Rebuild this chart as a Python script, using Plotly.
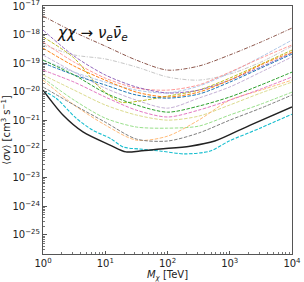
import numpy as np
import plotly.graph_objects as go

# mass grid (TeV) shared by most curves
mass = [1, 3.16, 10, 31.6, 100, 316, 1000, 3162, 10000]

# log10(<sigma v>) values [cm^3 s^-1]
brown = [-17.35, -17.91, -18.40, -18.89, -19.24, -19.10, -18.71, -18.26, -17.77]
purple = [-17.84, -18.75, -19.41, -19.83, -20.04, -19.94, -19.59, -19.13, -18.64]
lightgrey = [-18.36, -18.71, -18.85, -19.13, -19.48, -19.59, -19.38, -18.96, -18.40]
lightblue = [-18.89, -19.31, -19.66, -19.94, -20.04, -19.80, -19.34, -18.78, -18.19]
orange = [-18.47, -19.10, -19.59, -20.01, -20.18, -20.01, -19.59, -19.06, -18.61]
blue = [-18.99, -19.41, -19.76, -20.11, -20.22, -20.08, -19.66, -19.17, -18.68]
salmon = [-18.26, -18.96, -19.52, -19.87, -19.94, -19.76, -19.31, -18.82, -18.36]
green = [-18.89, -19.41, -20.04, -20.46, -20.71, -20.50, -20.18, -19.76, -19.31]
pink = [-19.24, -19.66, -20.18, -20.64, -20.88, -20.64, -20.29, -19.90, -19.48]
lavender = [-18.71, -19.31, -19.87, -20.29, -20.57, -20.22, -19.83, -19.31, -18.78]
lightyellow = [-19.41, -19.94, -20.46, -20.81, -20.99, -20.85, -20.46, -20.04, -19.66]
lightgreen = [-19.52, -20.29, -20.92, -21.23, -21.27, -21.20, -20.81, -20.43, -20.01]
peach = [-19.59, -20.46, -21.16, -21.69, -21.55, -20.99, -20.29, -19.94, -19.59]
grey = [-19.83, -20.46, -21.06, -21.65, -21.72, -21.44, -20.99, -20.57, -20.11]

olive_mass = [1, 3.16, 7.94, 17.8, 35.5, 100, 316, 1000, 3162, 10000]
olive = [-18.08, -18.82, -19.83, -20.36, -20.32, -20.15, -19.94, -19.52, -19.03, -18.54]

black_mass = [1, 2.09, 4.38, 11.9, 21.5, 36, 76, 230, 575, 2140, 10000]
black = [-19.94, -20.81, -21.40, -21.86, -22.10, -22.07, -22.00, -21.90, -21.72, -21.16, -20.53]

cyan_mass = [1, 1.62, 3.4, 6.3, 11.9, 19.6, 36, 76, 190, 485, 978, 3070, 10000]
cyan = [-19.97, -20.22, -20.92, -21.34, -21.62, -21.93, -22.00, -22.07, -22.17, -22.07, -21.72, -21.27, -20.78]

dashed = "3.5px,1.5px"
dashdot = "4px,1.5px,1px,1.5px"

series = [
    (mass, lightgrey, "#c7c7c7", dashdot, 1.0),
    (mass, lightblue, "#aec7e8", dashed, 1.0),
    (mass, salmon, "#ff9896", dashed, 1.0),
    (mass, lavender, "#c5b0d5", dashed, 1.0),
    (mass, lightyellow, "#dbdb8d", dashed, 1.0),
    (mass, lightgreen, "#98df8a", dashed, 1.0),
    (mass, peach, "#ffbb78", dashed, 1.0),
    (olive_mass, olive, "#bcbd22", dashed, 1.0),
    (mass, purple, "#9467bd", dashed, 1.0),
    (mass, orange, "#ff7f0e", dashed, 1.0),
    (mass, blue, "#1f77b4", dashed, 1.0),
    (mass, green, "#2ca02c", dashed, 1.0),
    (mass, pink, "#e377c2", dashed, 1.0),
    (mass, grey, "#7f7f7f", dashed, 1.0),
    (mass, brown, "#8c564b", dashdot, 1.0),
    (cyan_mass, cyan, "#17becf", dashed, 1.1),
    (black_mass, black, "#222222", "solid", 1.4),
]

fig = go.Figure()
for m, vals, col, dash, w in series:
    fig.add_trace(go.Scatter(
        x=m, y=[10.0 ** v for v in vals], mode="lines",
        line=dict(color=col, dash=dash, width=w, shape="spline", smoothing=0.8),
        showlegend=False, hoverinfo="skip"))

x_major = [1, 10, 100, 1000, 10000]
x_labels = ["10<sup>0</sup>", "10<sup>1</sup>", "10<sup>2</sup>", "10<sup>3</sup>", "10<sup>4</sup>"]
y_exps = [-25, -24, -23, -22, -21, -20, -19, -18, -17]
y_major = [10.0 ** e for e in y_exps]
y_labels = ["10<sup>−%d</sup>" % (-e) for e in y_exps]

x_minor = [k * 10.0 ** e for e in range(0, 4) for k in range(2, 10)]
y_minor = [k * 10.0 ** e for e in range(-26, -17) for k in range(2, 10)]

axis_common = dict(
    showgrid=False, zeroline=False, showline=True, linecolor="#555555", linewidth=1,
    mirror=True, ticks="inside", ticklen=3.5, tickwidth=0.8, tickcolor="#555555",
    tickfont=dict(family="DejaVu Sans", size=10, color="#222222"),
    automargin=False, ticklabeloverflow="allow",
)

fig.update_xaxes(type="log", range=[-0.0005, 4.0005], tickvals=x_major, ticktext=x_labels,
                 minor=dict(tickvals=x_minor, ticks="inside", ticklen=2, tickcolor="#777777", tickwidth=0.6),
                 title=dict(text="<i>M</i><sub><i>χ</i></sub> [TeV]", standoff=0,
                            font=dict(family="DejaVu Sans", size=10, color="#222222")),
                 **axis_common)
fig.update_yaxes(type="log", range=[-25.67, -16.998], tickvals=y_major, ticktext=y_labels,
                 minor=dict(tickvals=y_minor, ticks="inside", ticklen=2, tickcolor="#777777", tickwidth=0.6),
                 title=dict(text="⟨<i>σv</i>⟩ [cm<sup>3</sup> s<sup>−1</sup>]", standoff=2,
                            font=dict(family="DejaVu Sans", size=10, color="#222222")),
                 **axis_common)

fig.add_annotation(
    xref="paper", yref="paper", x=0.05, y=0.89, xanchor="left", yanchor="middle",
    text="<i>χχ</i> → <i>ν</i><sub><i>e</i></sub><i>ν\u0304</i><sub><i>e</i></sub>",
    showarrow=False, font=dict(family="DejaVu Sans", size=15, color="#111111"))

fig.update_layout(
    width=304, height=282,
    margin=dict(l=43, r=12, t=6, b=28),
    paper_bgcolor="white", plot_bgcolor="white",
)

fig.write_html("out.html", config={"displayModeBar": False},
               post_script="document.body.style.margin='0';document.body.style.overflow='hidden';")
